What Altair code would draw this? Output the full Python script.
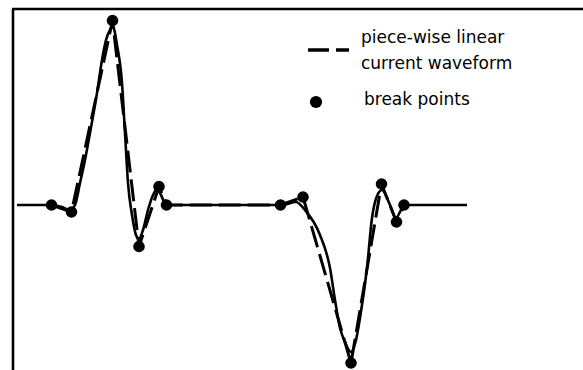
import altair as alt
import pandas as pd

# Break points of the piece-wise linear approximation (time in ns, current in mA)
break_t = [7.9, 11.9, 20.1, 25.4, 29.4, 30.9, 53.7, 58.2, 67.8, 73.9, 76.9, 78.4]
break_i = [0.0, -1.4, 36.9, -8.3, 3.7, 0.0, 0.0, 1.6, -31.6, 4.2, -3.4, 0.0]

# Samples of the measured (smooth) current waveform
wave_t = [1.0, 8.0, 10.0, 11.6, 12.6, 13.6, 14.6, 15.6, 17.0, 18.0, 18.8, 19.6,
          20.2, 21.0, 22.0, 22.6, 23.2, 24.0, 24.8, 25.4, 26.2, 27.2, 28.2, 29.0,
          29.8, 30.8, 54.0, 56.8, 58.6, 61.6, 63.6, 64.6, 65.6, 66.6, 67.8, 68.8,
          69.6, 71.0, 72.0, 73.0, 74.0, 75.6, 76.8, 77.8, 78.6, 91.0]
wave_i = [0.0, 0.0, -0.4, -1.0, 0.0, 4.4, 9.0, 14.4, 22.4, 29.0, 33.0, 35.0,
          35.6, 32.0, 24.4, 14.4, 4.4, -2.0, -6.0, -6.8, -5.0, -1.0, 2.0, 3.2,
          2.0, 0.0, 0.0, 0.6, -1.0, -6.0, -12.6, -19.0, -24.6, -27.4, -29.4, -27.0,
          -22.6, -12.6, -2.6, 1.8, 3.0, 0.0, -2.6, -1.0, 0.0, 0.0]

legend_labels = ["piece-wise linear", "current waveform", "break points"]

W, H = 571, 361
x_scale = alt.Scale(domain=[0, 114.2], nice=False, zero=False)
y_scale = alt.Scale(domain=[-33.0, 39.2], nice=False, zero=False)

breaks = pd.DataFrame({"t": break_t, "i": break_i})
wave = pd.DataFrame({"t": wave_t, "i": wave_i})
one = pd.DataFrame({"k": [0]})

X = alt.X("t:Q", scale=x_scale, axis=None)
Y = alt.Y("i:Q", scale=y_scale, axis=None)

frame_top = alt.Chart(one).mark_rule(color="black", strokeWidth=2.6).encode(
    x=alt.value(0), x2=alt.value(W), y=alt.value(0))
frame_left = alt.Chart(one).mark_rule(color="black", strokeWidth=2.6).encode(
    x=alt.value(1), y=alt.value(0), y2=alt.value(H))

solid = alt.Chart(wave).mark_line(
    color="black", strokeWidth=2.6, interpolate="monotone"
).encode(x=X, y=Y)

dashed = alt.Chart(breaks).mark_line(
    color="black", strokeWidth=3, strokeDash=[22, 7]
).encode(x=X, y=Y)

dots = alt.Chart(breaks).mark_circle(color="black", size=135, opacity=1).encode(x=X, y=Y)

# Legend drawn by hand
leg_dash = alt.Chart(one).mark_rule(color="black", strokeWidth=3.5, strokeDash=[21, 7]).encode(
    x=alt.value(296), x2=alt.value(337), y=alt.value(41))
leg_dot = alt.Chart(one).mark_circle(color="black", size=150, opacity=1).encode(
    x=alt.value(304), y=alt.value(93))

def label(text, x, y):
    return alt.Chart(one).mark_text(
        text=text, align="left", baseline="alphabetic",
        font="DejaVu Sans", fontSize=17, color="black"
    ).encode(x=alt.value(x), y=alt.value(y))

leg_texts = [
    label(legend_labels[0], 349, 34),
    label(legend_labels[1], 349, 60),
    label(legend_labels[2], 352, 96),
]

chart = alt.layer(
    frame_top, frame_left, solid, dashed, dots, leg_dash, leg_dot, *leg_texts
).properties(
    width=W, height=H,
    padding={"left": 12, "top": 9, "right": 0, "bottom": 0},
    autosize=alt.AutoSizeParams(type="none"),
    background="white",
).configure_view(stroke=None)

chart.save("out.html", embed_options={"renderer": "svg", "actions": False})
